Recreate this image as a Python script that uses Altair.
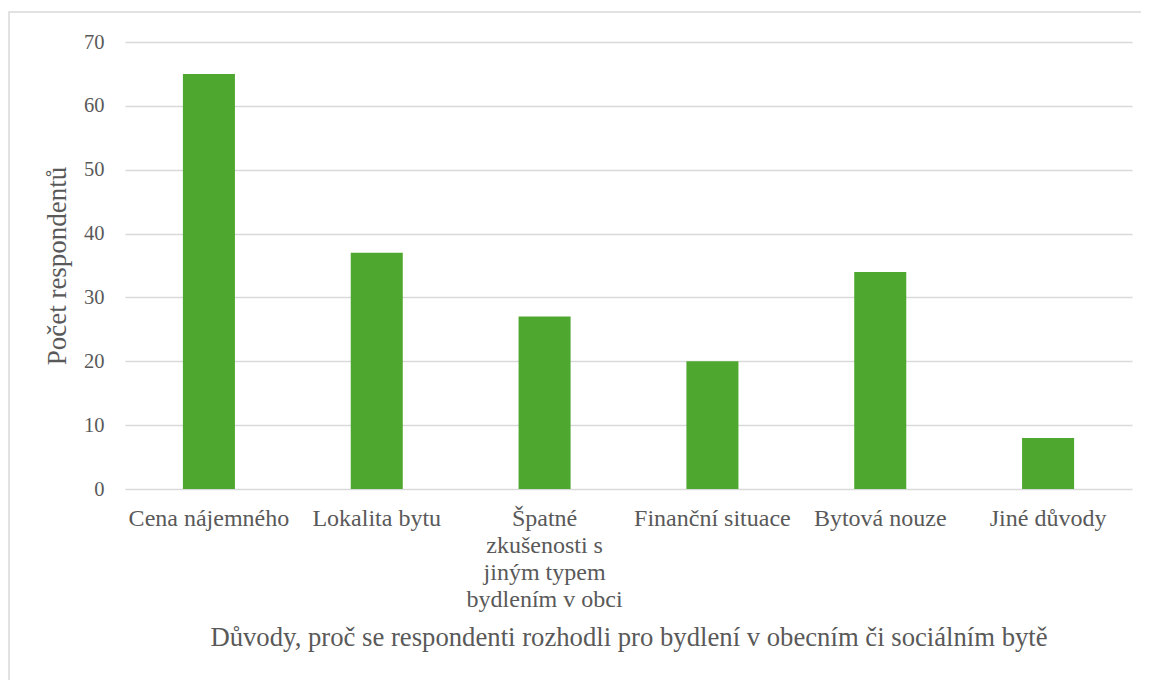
import altair as alt
import pandas as pd

categories = [
    "Cena nájemného",
    "Lokalita bytu",
    "Špatné\nzkušenosti s\njiným typem\nbydlením v obci",
    "Finanční situace",
    "Bytová nouze",
    "Jiné důvody",
]
values = [65, 37, 27, 20, 34, 8]

df = pd.DataFrame({"kategorie": categories, "pocet": values})

FONT = "Liberation Serif"
TXT = "#595959"

bars = alt.Chart(df).mark_bar(color="#4EA72E").encode(
    x=alt.X(
        "kategorie:N",
        sort=categories,
        scale=alt.Scale(paddingInner=0.69, paddingOuter=0.345),
        axis=alt.Axis(
            title="Důvody, proč se respondenti rozhodli pro bydlení v obecním či sociálním bytě",
            labelAngle=0,
            labelExpr="split(datum.label, '\\n')",
            labelLineHeight=27,
            labelPadding=17,
            labelBaseline="top",
            labelFontSize=24,
            titleFontSize=26.7,
            titleY=148,
            titleBaseline="middle",
            domain=False,
            ticks=False,
            grid=False,
        ),
    ),
    y=alt.Y(
        "pocet:Q",
        scale=alt.Scale(domain=[0, 70]),
        axis=alt.Axis(
            title="Počet respondentů",
            values=[0, 10, 20, 30, 40, 50, 60, 70],
            labelPadding=21,
            labelFontSize=20.5,
            titleFontSize=27,
            titleX=-68,
            titleY=223.5,
            titleAlign="center",
            titleBaseline="middle",
            titleAngle=-90,
            domain=False,
            ticks=False,
            grid=True,
            gridColor="#D9D9D9",
            gridWidth=1.5,
        ),
    ),
)

border = alt.Chart(alt.Data(values=[{"a": 1}])).mark_rect(
    fill="transparent", stroke="#D9D9D9", strokeWidth=1.5
).encode(
    x=alt.value(-116), x2=alt.value(1040), y=alt.value(-30), y2=alt.value(680)
)

chart = alt.layer(border, bars).properties(
    width=1007,
    height=447,
    autosize=alt.AutoSizeParams(type="none"),
    padding={"left": 117, "top": 34, "right": 9, "bottom": 210},
).configure_view(stroke=None).configure_axis(
    labelFont=FONT,
    titleFont=FONT,
    labelColor=TXT,
    titleColor=TXT,
    titleFontWeight="normal",
)

chart.save("out.html", embed_options={"renderer": "svg", "actions": False})
